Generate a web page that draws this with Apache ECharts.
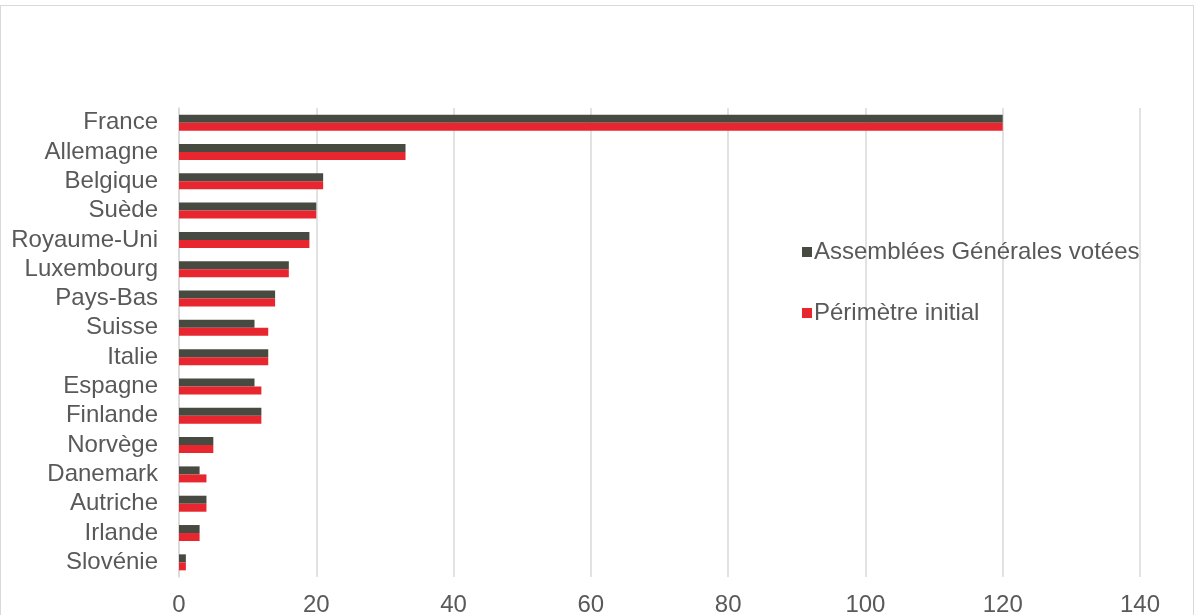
<!DOCTYPE html>
<html><head><meta charset="utf-8">
<script src="https://cdn.jsdelivr.net/npm/echarts@6/dist/echarts.min.js"></script>
<style>html,body{margin:0;padding:0;background:#fff}#frame{position:absolute;left:0;top:5px;width:1194px;height:615px;border:1px solid #d9d9d9;box-sizing:border-box}#c{width:1200px;height:615px;position:absolute;left:0;top:0}</style>
</head><body><div id="frame"></div><div id="c"></div>
<script>
const categories = ['France','Allemagne','Belgique','Suède','Royaume-Uni','Luxembourg','Pays-Bas','Suisse','Italie','Espagne','Finlande','Norvège','Danemark','Autriche','Irlande','Slovénie'];
const agVotees = [120,33,21,20,19,16,14,11,13,11,12,5,3,4,3,1];
const perimetre = [120,33,21,20,19,16,14,13,13,12,12,5,4,4,3,1];
const xTicks = [0,20,40,60,80,100,120,140];
const chart = echarts.init(document.getElementById('c'));
chart.setOption({
  animation:false,
  textStyle:{fontFamily:'Liberation Sans, Arial, sans-serif'},
  grid:{left:179,right:60,top:108,bottom:38,containLabel:false,outerBoundsMode:'none'},
  legend:{orient:'vertical',left:797,top:235,itemWidth:10,itemHeight:10,itemGap:37,icon:'rect',
    textStyle:{fontSize:24,color:'#595959',padding:[0,0,0,-3]},
    data:['Assemblées Générales votées','Périmètre initial']},
  xAxis:{type:'value',min:0,max:140,interval:20,
    axisLine:{show:false},axisTick:{show:false},
    axisLabel:{fontSize:24,color:'#595959',margin:16,formatter:v=>xTicks.includes(v)?String(v):''},
    splitLine:{lineStyle:{color:'#d9d9d9',width:1.5}}},
  yAxis:{type:'category',data:categories,inverse:true,
    axisLine:{lineStyle:{color:'#d9d9d9',width:1.5}},axisTick:{show:false},
    axisLabel:{fontSize:24,color:'#595959',margin:21,interval:0}},
  series:[
    {name:'Assemblées Générales votées',type:'bar',data:agVotees,barWidth:8,barGap:'0%',itemStyle:{color:'#474a40'}},
    {name:'Périmètre initial',type:'bar',data:perimetre,barWidth:8,barGap:'0%',itemStyle:{color:'#e8262f'}}
  ]
});
</script></body></html>
